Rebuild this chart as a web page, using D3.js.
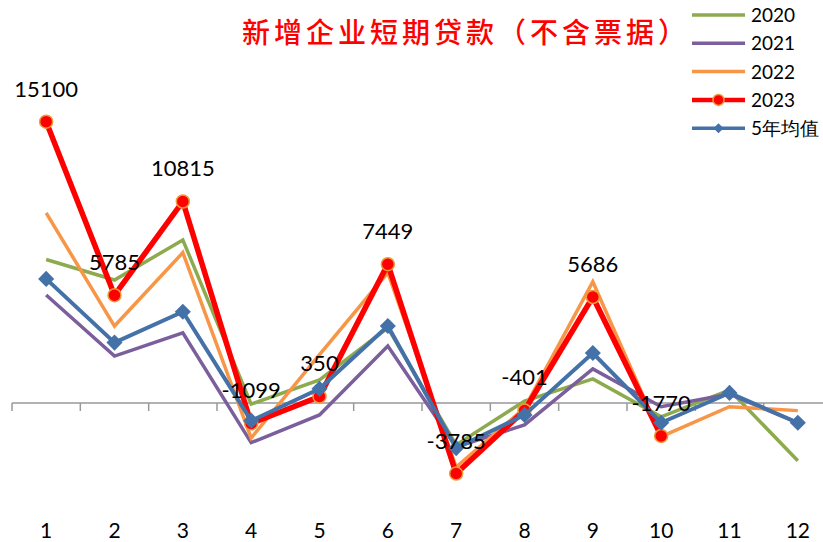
<!DOCTYPE html>
<html>
<head>
<meta charset="utf-8">
<script src="https://d3js.org/d3.v7.min.js"></script>
<style>
  body { margin: 0; background: #fff; }
  svg { display: block; }
</style>
</head>
<body>
<script>
// months on the category axis
var months = ["1", "2", "3", "4", "5", "6", "7", "8", "9", "10", "11", "12"];

// 新增企业短期贷款（不含票据）, values
var v2020 = [7700, 6600, 8750, -60, 1240, 4030, -2250, 100, 1290, -740, 700, -3100];
var v2021 = [5800, 2520, 3760, -2130, -640, 3060, -2360, -1180, 1830, -200, 480, -1070];
var v2022 = [10200, 4130, 8070, -1880, 2600, 7000, -3440, -270, 6510, -1810, -200, -410];
var v2023 = [15100, 5785, 10815, -1099, 350, 7449, -3785, -401, 5686, -1770];
var avg5 = [6660, 3240, 4900, -950, 760, 4130, -2420, -640, 2680, -1060, 540, -1060];

var seriesNames = ["2020", "2021", "2022", "2023", "5年均值"];

var W = 823, H = 542;

var svg = d3.select("body").append("svg")
    .attr("width", W)
    .attr("height", H);

var x = d3.scaleBand()
    .domain(months)
    .range([12, 832]);

var y = d3.scaleLinear()
    .domain([-7000, 16000])
    .range([533.4, 104.9]);

var cx = function(i) { return x(months[i]) + x.bandwidth() / 2; };

// zero axis with ticks between categories
svg.append("line")
    .attr("x1", 12).attr("x2", W)
    .attr("y1", y(0)).attr("y2", y(0))
    .attr("stroke", "#999").attr("stroke-width", 1.5);

svg.selectAll(".tick")
    .data(months)
    .enter().append("line")
    .attr("class", "tick")
    .attr("x1", function(d) { return x(d); })
    .attr("x2", function(d) { return x(d); })
    .attr("y1", y(0)).attr("y2", y(0) + 8)
    .attr("stroke", "#999").attr("stroke-width", 1.5);

svg.selectAll(".xlab")
    .data(months)
    .enter().append("text")
    .attr("class", "xlab")
    .attr("x", function(d) { return x(d) + x.bandwidth() / 2; })
    .attr("y", 538)
    .attr("text-anchor", "middle")
    .attr("font-family", "Lato, 'Open Sans', sans-serif")
    .attr("font-size", 21)
    .attr("fill", "#000")
    .text(function(d) { return d; });

var line = d3.line()
    .x(function(d, i) { return cx(i); })
    .y(function(d) { return y(d); });

var styles = [
    { data: v2020, color: "#8DAA4E", width: 3.5 },
    { data: v2021, color: "#7B5E9C", width: 3.5 },
    { data: v2022, color: "#F79646", width: 3.5 },
    { data: v2023, color: "#FF0000", width: 5.5, marker: "circle" },
    { data: avg5, color: "#4472A8", width: 4, marker: "diamond" }
];

var diamond = d3.symbol().type(d3.symbolSquare).size(130);

styles.forEach(function(s) {
    svg.append("path")
        .datum(s.data)
        .attr("d", line)
        .attr("fill", "none")
        .attr("stroke", s.color)
        .attr("stroke-width", s.width)
        .attr("stroke-linejoin", "miter");

    if (s.marker === "circle") {
        svg.selectAll(null)
            .data(s.data)
            .enter().append("circle")
            .attr("cx", function(d, i) { return cx(i); })
            .attr("cy", function(d) { return y(d); })
            .attr("r", 6.5)
            .attr("fill", "#FF0000")
            .attr("stroke", "#EE9A3A")
            .attr("stroke-width", 1.5);
    } else if (s.marker === "diamond") {
        svg.selectAll(null)
            .data(s.data)
            .enter().append("path")
            .attr("d", diamond)
            .attr("transform", function(d, i) {
                return "translate(" + cx(i) + "," + y(d) + ") rotate(45)";
            })
            .attr("fill", s.color);
    }
});

// data labels for 2023
svg.selectAll(".dlab")
    .data(v2023)
    .enter().append("text")
    .attr("class", "dlab")
    .attr("x", function(d, i) { return cx(i); })
    .attr("y", function(d) { return y(d) - 25; })
    .attr("text-anchor", "middle")
    .attr("font-family", "Lato, 'Open Sans', sans-serif")
    .attr("font-size", 22)
    .attr("fill", "#000")
    .text(function(d) { return d; });

// title
svg.append("text")
    .attr("x", 242)
    .attr("y", 43)
    .attr("font-family", "'Noto Sans CJK SC', sans-serif")
    .attr("font-size", 28)
    .attr("font-weight", 500)
    .attr("letter-spacing", 4)
    .attr("fill", "#FF0000")
    .text("新增企业短期贷款（不含票据）");

// legend
var legend = svg.append("g").attr("class", "legend");
var rows = legend.selectAll("g")
    .data(seriesNames)
    .enter().append("g")
    .attr("transform", function(d, i) { return "translate(0," + (15 + i * 28.3) + ")"; });

rows.append("line")
    .attr("x1", 692).attr("x2", 745)
    .attr("y1", 0).attr("y2", 0)
    .attr("stroke", function(d, i) { return styles[i].color; })
    .attr("stroke-width", function(d, i) { return i === 3 ? 4.5 : 3.5; });

rows.filter(function(d, i) { return i === 3; })
    .append("circle")
    .attr("cx", 718.5).attr("cy", 0).attr("r", 5.5)
    .attr("fill", "#FF0000")
    .attr("stroke", "#EE9A3A")
    .attr("stroke-width", 1.5);

rows.filter(function(d, i) { return i === 4; })
    .append("path")
    .attr("d", d3.symbol().type(d3.symbolSquare).size(50))
    .attr("transform", "translate(718.5,0) rotate(45)")
    .attr("fill", "#4472A8");

rows.append("text")
    .attr("x", 751)
    .attr("y", 7)
    .attr("font-family", "Lato, 'Open Sans', sans-serif")
    .attr("font-size", 19)
    .attr("fill", "#000")
    .text(function(d) { return d; });
</script>
</body>
</html>
